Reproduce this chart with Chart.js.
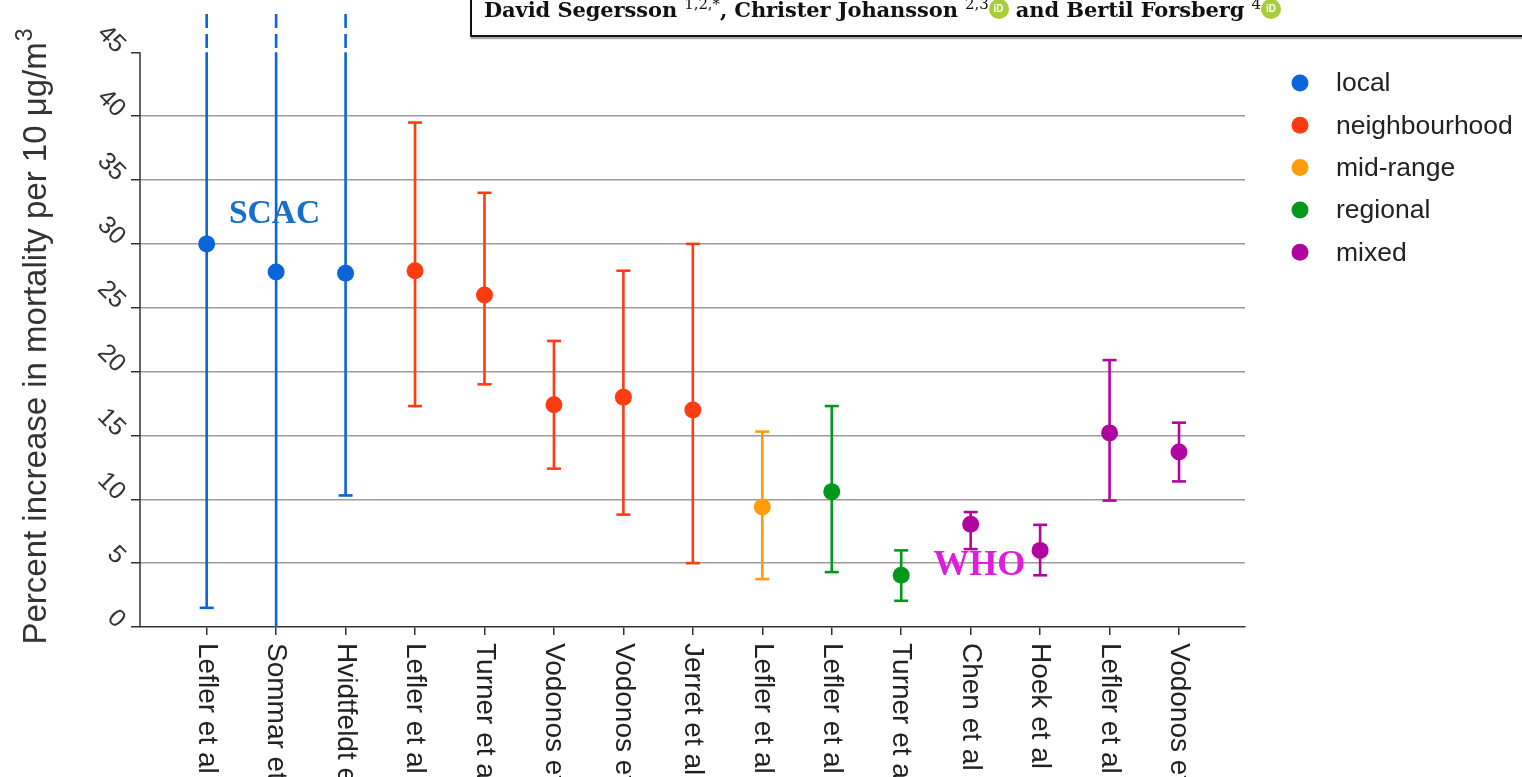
<!DOCTYPE html>
<html>
<head>
<meta charset="utf-8">
<script src="https://cdn.jsdelivr.net/npm/chart.js@4.4.1/dist/chart.umd.min.js"></script>
<style>
    html, body { margin: 0; padding: 0; background: #fff; overflow: hidden; }
    #wrap { position: relative; width: 1522px; height: 777px; }
    #chart { position: absolute; left: 0; top: 0; }
    #authors {
        position: absolute; left: 470px; top: -12px; width: 1100px; height: 49px;
        box-sizing: border-box; border: 2px solid #111; box-shadow: 1px 2px 1px #aaa;
        background: #fff; padding: 5px 0 0 12px;
        font-family: "DejaVu Serif", serif; font-weight: bold; font-size: 21px;
        color: #111; white-space: nowrap; letter-spacing: -0.1px;
    }
    #authors sup { font-weight: normal; font-size: 15px; }
    .orcid {
        display: inline-block; width: 20px; height: 20px; border-radius: 50%;
        background: #a6ce39; color: #fff; font: bold 10px "Liberation Sans", sans-serif;
        text-align: center; line-height: 20px; vertical-align: 5px; letter-spacing: 0;
    }
</style>
</head>
<body>
<div id="wrap">
    <canvas id="chart" width="1522" height="777"></canvas>
    <div id="authors">David Segersson <sup>1,2,*</sup>, Christer Johansson <sup>2,3</sup><span class="orcid">iD</span> and Bertil Forsberg <sup>4</sup><span class="orcid">iD</span></div>
</div>
<script>
// studies along the x axis
const studies = ['Lefler et al', 'Sommar et al', 'Hvidtfeldt et al', 'Lefler et al', 'Turner et al',
    'Vodonos et al', 'Vodonos et al', 'Jerret et al', 'Lefler et al', 'Lefler et al',
    'Turner et al', 'Chen et al', 'Hoek et al', 'Lefler et al', 'Vodonos et al'];
const groups = ['local', 'neighbourhood', 'mid-range', 'regional', 'mixed'];
const groupColors = ['#0b64d8', '#ff3b12', '#ff9c0a', '#03981c', '#b0069f'];
const studyGroup = [0, 0, 0, 1, 1, 1, 1, 1, 2, 3, 3, 4, 4, 4, 4];

// percent increase in mortality per 10 ug/m3 with confidence limits
const estimate = [30, 27.8, 27.7, 27.9, 26, 17.4, 18, 17, 9.4, 10.6, 4.05, 8.05, 6, 15.2, 13.7];
const lower = [1.5, -1, 10.3, 17.3, 19, 12.4, 8.8, 5, 3.75, 4.3, 2.05, 6.1, 4.05, 9.9, 11.4];
// null = upper limit lies above the axis (drawn as a broken line)
const upper = [null, null, null, 39.5, 34, 22.4, 27.9, 30, 15.3, 17.3, 6, 9, 8, 20.9, 16];

const yTicks = [0, 5, 10, 15, 20, 25, 30, 35, 40, 45];
const yTitle = 'Percent increase in mortality per 10 μg/m';

// text notes placed in data coordinates
const notes = [
    { text: 'SCAC', x: 1.32, y: 31.6, color: '#1670c8', size: 33.5 },
    { text: 'WHO', x: 11.46, y: 4.05, color: '#dd1fdd', size: 36 }
];

const datasets = groups.map((g, gi) => ({
    label: g,
    data: studies.map((s, i) => ({ x: i + 1, y: estimate[i], lo: lower[i], hi: upper[i] }))
        .filter((p, i) => studyGroup[i] === gi),
    backgroundColor: groupColors[gi],
    borderColor: groupColors[gi],
    pointRadius: 8.5,
    pointHoverRadius: 8.5,
    pointBorderWidth: 0
}));

const errorBars = {
    id: 'errorBars',
    beforeDatasetsDraw(chart) {
        const { ctx, chartArea, scales: { x, y } } = chart;
        ctx.save();
        ctx.beginPath();
        ctx.rect(chartArea.left, chartArea.top, chartArea.right - chartArea.left, chartArea.bottom - chartArea.top);
        ctx.clip();
        ctx.lineWidth = 2.6;
        chart.data.datasets.forEach(ds => {
            ctx.strokeStyle = ds.borderColor;
            ds.data.forEach(p => {
                const px = x.getPixelForValue(p.x);
                const yLo = y.getPixelForValue(p.lo);
                const yTop = y.getPixelForValue(p.hi === null ? 45 : p.hi);
                ctx.setLineDash([]);
                ctx.beginPath();
                ctx.moveTo(px, yLo);
                ctx.lineTo(px, yTop);
                ctx.stroke();
                if (p.hi === null) {
                    ctx.setLineDash([14, 6]);
                    ctx.beginPath();
                    ctx.moveTo(px, chartArea.top);
                    ctx.lineTo(px, yTop);
                    ctx.stroke();
                    ctx.setLineDash([]);
                } else {
                    ctx.beginPath();
                    ctx.moveTo(px - 7, yTop);
                    ctx.lineTo(px + 7, yTop);
                    ctx.stroke();
                }
                ctx.beginPath();
                ctx.moveTo(px - 7, yLo);
                ctx.lineTo(px + 7, yLo);
                ctx.stroke();
            });
        });
        ctx.restore();
    },
    afterDraw(chart) {
        const { ctx, chartArea, scales: { x, y } } = chart;
        ctx.save();

        // y axis line, only up to the last tick
        ctx.strokeStyle = '#333';
        ctx.lineWidth = 1.5;
        ctx.beginPath();
        ctx.moveTo(chartArea.left, y.getPixelForValue(45));
        ctx.lineTo(chartArea.left, y.getPixelForValue(0));
        ctx.stroke();

        // slanted y tick labels
        ctx.fillStyle = '#333';
        ctx.font = '25px "Liberation Sans", Arial, sans-serif';
        ctx.textAlign = 'right';
        ctx.textBaseline = 'middle';
        yTicks.forEach(v => {
            ctx.save();
            ctx.translate(chartArea.left - 19, y.getPixelForValue(v) - 3);
            ctx.rotate(Math.PI / 4);
            ctx.fillText(String(v), 0, 0);
            ctx.restore();
        });

        // y title
        ctx.save();
        ctx.font = '33px "Liberation Sans", Arial, sans-serif';
        const w = ctx.measureText(yTitle).width;
        ctx.font = '23px "Liberation Sans", Arial, sans-serif';
        const w3 = ctx.measureText('3').width;
        const midY = y.getPixelForValue(0) - 290;
        ctx.translate(46, midY);
        ctx.rotate(-Math.PI / 2);
        ctx.textAlign = 'left';
        ctx.textBaseline = 'alphabetic';
        ctx.font = '33px "Liberation Sans", Arial, sans-serif';
        const start = -(w + w3) / 2;
        ctx.fillText(yTitle, start, 0);
        ctx.font = '23px "Liberation Sans", Arial, sans-serif';
        ctx.fillText('3', start + w + 1, -14);
        ctx.restore();

        // study labels, reading downward
        ctx.fillStyle = '#222';
        ctx.font = '28px "Liberation Sans", Arial, sans-serif';
        ctx.textAlign = 'left';
        ctx.textBaseline = 'middle';
        studies.forEach((s, i) => {
            ctx.save();
            ctx.translate(x.getPixelForValue(i + 1), chartArea.bottom + 16);
            ctx.rotate(Math.PI / 2);
            ctx.fillText(s, 0, 0);
            ctx.restore();
        });

        // notes
        ctx.textAlign = 'left';
        ctx.textBaseline = 'alphabetic';
        notes.forEach(n => {
            ctx.fillStyle = n.color;
            ctx.font = 'bold ' + n.size + 'px "Liberation Serif", "Times New Roman", serif';
            ctx.fillText(n.text, x.getPixelForValue(n.x), y.getPixelForValue(n.y));
        });

        // legend
        ctx.font = '26.5px "Liberation Sans", Arial, sans-serif';
        ctx.textBaseline = 'middle';
        chart.data.datasets.forEach((ds, i) => {
            const ly = 83 + i * 42.3;
            ctx.fillStyle = ds.backgroundColor;
            ctx.beginPath();
            ctx.arc(1300, ly, 8.5, 0, Math.PI * 2);
            ctx.fill();
            ctx.fillStyle = '#222';
            ctx.fillText(ds.label, 1336, ly + 1);
        });
        ctx.restore();
    }
};

new Chart(document.getElementById('chart'), {
    type: 'scatter',
    data: { datasets },
    options: {
        responsive: false,
        animation: false,
        layout: { padding: { left: 0, top: 14, right: 277, bottom: 0 } },
        plugins: { legend: { display: false }, tooltip: { enabled: false } },
        scales: {
            x: {
                type: 'linear',
                min: 0.04,
                max: 15.95,
                afterBuildTicks: s => { s.ticks = studies.map((n, i) => ({ value: i + 1 })); },
                afterFit: s => { s.height = 150; },
                ticks: { display: false },
                grid: { drawOnChartArea: false, drawTicks: true, tickLength: 8, tickColor: '#333', lineWidth: 1.5 },
                border: { display: true, color: '#333', width: 1.5 }
            },
            y: {
                min: 0,
                max: 48,
                afterBuildTicks: s => { s.ticks = yTicks.map(v => ({ value: v })); },
                afterFit: s => { s.width = 140; },
                ticks: { display: false },
                grid: {
                    color: c => (c.tick.value === 0 || c.tick.value === 45) ? 'rgba(0,0,0,0)' : '#9a9a9a',
                    lineWidth: 1.5,
                    drawTicks: true,
                    tickLength: 9,
                    tickColor: '#333'
                },
                border: { display: false }
            }
        }
    },
    plugins: [errorBars]
});
</script>
</body>
</html>
